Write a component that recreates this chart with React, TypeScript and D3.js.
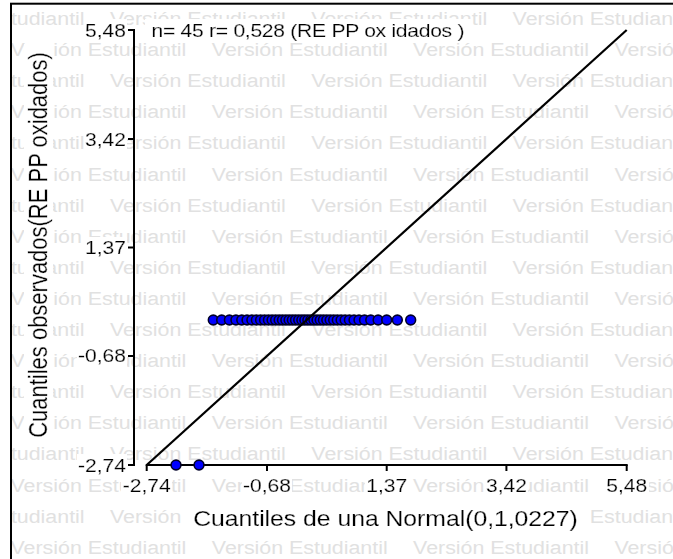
import React from "react";
import * as d3 from "d3";

// ---- data ----
const xQuantiles = [
  -2.238, -1.844, -1.6, -1.456, -1.324, -1.212, -1.112, -1.022, -0.939, -0.862,
  -0.79, -0.722, -0.656, -0.593, -0.532, -0.472, -0.415, -0.357, -0.301, -0.246,
  -0.192, -0.137, -0.083, -0.032, 0.02, 0.072, 0.124, 0.177, 0.232, 0.287,
  0.344, 0.402, 0.462, 0.524, 0.589, 0.658, 0.731, 0.81, 0.895, 0.99,
  1.097, 1.223, 1.37, 1.552, 1.781,
];
const yObserved = [
  -2.74, -2.74, 0, 0, 0, 0, 0, 0, 0, 0,
  0, 0, 0, 0, 0, 0, 0, 0, 0, 0,
  0, 0, 0, 0, 0, 0, 0, 0, 0, 0,
  0, 0, 0, 0, 0, 0, 0, 0, 0, 0,
  0, 0, 0, 0, 0,
];
const tickValues = [-2.74, -0.68, 1.37, 3.42, 5.48];
const tickLabels = ["-2,74", "-0,68", "1,37", "3,42", "5,48"];
const domainMin = -2.74;
const domainMax = 5.48;
const titleText = "n= 45 r= 0,528 (RE PP  ox idados )";
const xTitle = "Cuantiles de una Normal(0,1,0227)";
const yTitle = "Cuantiles observados(RE PP  oxidados)";
const watermark = "Versión Estudiantil";

const W = 673;
const H = 559;
const SX = 1.15;
const FONT = "'Liberation Sans', Arial, Helvetica, sans-serif";

export default function App() {
  const x = d3.scaleLinear().domain([domainMin, domainMax]).range([146.7, 626.7]);
  const y = d3.scaleLinear().domain([domainMin, domainMax]).range([465, 30]);
  const axisX = 134;
  const axisY = 465;

  // watermark layout
  const period = 201.3;
  const wmRows: { y: number; xs: number[] }[] = [];
  for (let k = 0; k < 18; k++) {
    const by = 25 + 31.1 * k;
    const off = k % 2 === 0 ? 110 : 10.5;
    const xs: number[] = [];
    for (let xx = off - period * 2; xx < W; xx += period) xs.push(xx);
    wmRows.push({ y: by, xs });
  }

  const diag = d3.line<number>()
    .x((d) => x(d))
    .y((d) => y(d));

  const textStroke = { stroke: "#000", strokeWidth: 0.25 };

  return (
    <svg
      width={W}
      height={H}
      style={{ position: "absolute", left: 0, top: 0, background: "#fff" }}
      fontFamily={FONT}
    >
      <defs>
        <filter id="bg" x="-0.02" y="0" width="1.04" height="1">
          <feFlood floodColor="#ffffff" />
          <feComposite in="SourceGraphic" operator="over" />
        </filter>
        <clipPath id="inner">
          <rect x={12} y={4.7} width={W} height={H} />
        </clipPath>
      </defs>
      <rect x={0} y={0} width={W} height={H} fill="#fff" />
      {/* watermark */}
      <g clipPath="url(#inner)" fill="#e1e1e1" fontSize={18.6}>
        {wmRows.map((r, i) =>
          r.xs.map((xx, j) => (
            <text key={`${i}-${j}`} transform={`translate(${xx},${r.y}) scale(${SX},1)`}>
              {watermark}
            </text>
          ))
        )}
      </g>
      {/* frame */}
      <rect x={11} y={3.7} width={W + 20} height={H + 20} fill="none" stroke="#000" strokeWidth={2} />

      {/* axes */}
      <line x1={axisX} x2={axisX} y1={y(domainMax) - 1} y2={y(domainMin) + 1} stroke="#000" strokeWidth={2} />
      {tickValues.map((v, i) => (
        <g key={`yt${i}`}>
          <line x1={axisX - 6} x2={axisX} y1={y(v)} y2={y(v)} stroke="#000" strokeWidth={2} />
          <text
            transform={`translate(${axisX - 8},${y(v) + 6.5}) scale(${SX},1)`}
            textAnchor="end"
            fontSize={18.3}
            fill="#000"
            {...textStroke}
            filter="url(#bg)"
          >
            {tickLabels[i]}
          </text>
        </g>
      ))}
      <line x1={x(domainMin) - 1} x2={x(domainMax) + 1} y1={axisY} y2={axisY} stroke="#000" strokeWidth={2} />
      {tickValues.map((v, i) => (
        <g key={`xt${i}`}>
          <line x1={x(v)} x2={x(v)} y1={axisY} y2={axisY + 6} stroke="#000" strokeWidth={2} />
          <text
            transform={`translate(${x(v)},${492}) scale(${SX},1)`}
            textAnchor="middle"
            fontSize={18.3}
            fill="#000"
            {...textStroke}
            filter="url(#bg)"
          >
            {tickLabels[i]}
          </text>
        </g>
      ))}

      {/* points */}
      {xQuantiles.map((xv, i) => (
        <circle
          key={`p${i}`}
          cx={x(xv)}
          cy={y(yObserved[i])}
          r={4.9}
          fill="#0000ff"
          stroke="#000028"
          strokeWidth={1.6}
        />
      ))}

      {/* reference line */}
      <path d={diag([domainMin, domainMax]) || ""} fill="none" stroke="#000" strokeWidth={2.2} />

      {/* titles */}
      <text
        transform={`translate(151.5,36.5) scale(${SX},1)`}
        fontSize={18.3}
        fill="#000"
        {...textStroke}
        textLength={313 / SX}
        lengthAdjust="spacing"
        filter="url(#bg)"
      >
        {titleText}
      </text>
      <text
        transform={`translate(385.5,526) scale(${SX},1)`}
        textAnchor="middle"
        fontSize={21.5}
        fill="#000"
        {...textStroke}
        filter="url(#bg)"
      >
        {xTitle}
      </text>
      <text
        transform={`translate(47,245) scale(${SX},1) rotate(-90)`}
        textAnchor="middle"
        fontSize={22}
        fill="#000"
        {...textStroke}
        filter="url(#bg)"
      >
        {yTitle}
      </text>
    </svg>
  );
}
